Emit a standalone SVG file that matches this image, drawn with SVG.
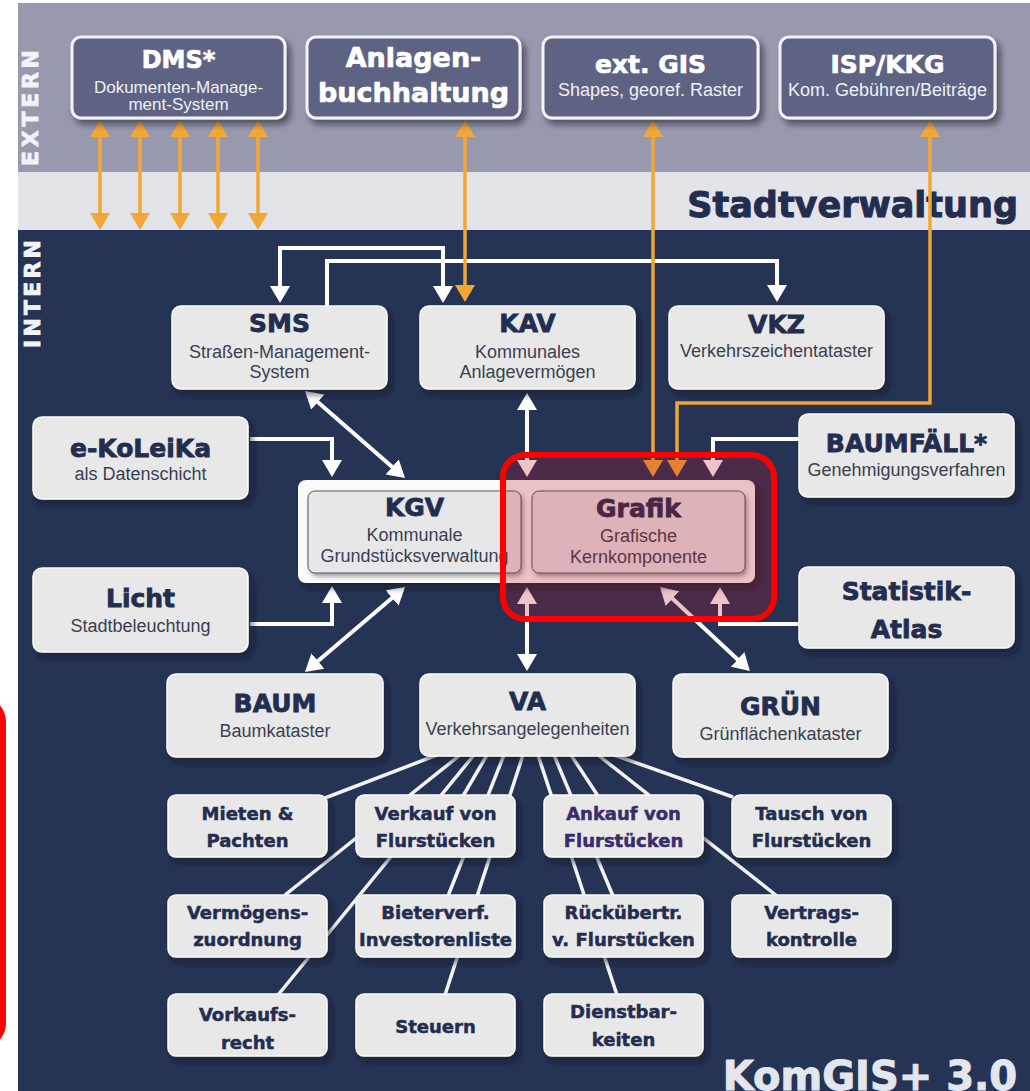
<svg xmlns="http://www.w3.org/2000/svg" width="1030" height="1091" viewBox="0 0 1030 1091">
<defs>
<filter id="sh" x="-10%" y="-10%" width="130%" height="140%"><feDropShadow dx="4" dy="5" stdDeviation="3" flood-color="#0a0f22" flood-opacity="0.55"/></filter>
<filter id="sh2" x="-10%" y="-10%" width="130%" height="140%"><feDropShadow dx="2" dy="3" stdDeviation="2" flood-color="#30303a" flood-opacity="0.45"/></filter>
<marker id="wa" markerUnits="userSpaceOnUse" markerWidth="18" markerHeight="20" refX="13" refY="10" orient="auto-start-reverse"><path d="M0,0 L17,10 L0,20 Z" fill="#ffffff"/></marker>
<marker id="oa" markerUnits="userSpaceOnUse" markerWidth="18" markerHeight="20" refX="13" refY="10" orient="auto-start-reverse"><path d="M0,0 L17,10 L0,20 Z" fill="#f2a735"/></marker>
<style>
.ext rect{fill:#5f6483;stroke:#f3f3f7;stroke-width:3;filter:url(#sh)}
.int rect{fill:#e8e8e8;stroke:#fafafa;stroke-width:1.5;filter:url(#sh)}
.t1{font-family:"DejaVu Sans",sans-serif;font-weight:bold;fill:#ffffff;stroke:#ffffff;stroke-width:0.7;text-anchor:middle}
.s1{font-family:"Liberation Sans",Arial,sans-serif;font-size:18px;fill:#eef0f6;text-anchor:middle}
.t2{font-family:"DejaVu Sans",sans-serif;font-weight:bold;font-size:25px;fill:#232d4f;stroke:#232d4f;stroke-width:0.8;text-anchor:middle}
.s2{font-family:"Liberation Sans",Arial,sans-serif;font-size:18px;fill:#3a3f52;text-anchor:middle}
.t3{font-family:"DejaVu Sans",sans-serif;font-weight:bold;font-size:18px;fill:#232d4f;stroke:#232d4f;stroke-width:0.5;text-anchor:middle}
.wl{fill:none;stroke:#ffffff;stroke-width:4}
.ol{fill:none;stroke:#f2a735;stroke-width:3.5}
.fan{fill:none;stroke:#f4f4f6;stroke-width:3.5}
.lbl{font-family:"DejaVu Sans",sans-serif;font-weight:bold;fill:#f2f3f8;stroke:#f2f3f8;stroke-width:0.8}
</style>
</defs>
<rect width="1030" height="1091" fill="#ffffff"/>
<rect x="18" y="3" width="1012" height="170" fill="#979aaf"/>
<rect x="18" y="172" width="1012" height="59" fill="#e2e4ea"/>
<rect x="18" y="230" width="1012" height="861" fill="#253355"/>
<text class="lbl" font-size="22" text-anchor="middle" transform="translate(38,108) rotate(-90)" textLength="116" lengthAdjust="spacing">EXTERN</text>
<text class="lbl" font-size="22" text-anchor="middle" transform="translate(40,294) rotate(-90)" textLength="108" lengthAdjust="spacing">INTERN</text>
<text x="1018" y="217" font-family="DejaVu Sans,sans-serif" font-weight="bold" font-size="35" fill="#232d4f" stroke="#232d4f" stroke-width="1" text-anchor="end">Stadtverwaltung</text>
<text x="1017" y="1090" font-family="DejaVu Sans,sans-serif" font-weight="bold" font-size="40" fill="#e4e6ee" stroke="#e4e6ee" stroke-width="1" text-anchor="end">KomGIS+ 3.0</text>
<rect x="-40" y="700" width="43" height="345" rx="22" fill="none" stroke="#ff0000" stroke-width="6"/>

<g id="connectors">
<path class="fan" d="M437,755 L325,798"/>
<path class="fan" d="M460,755 L285,895"/>
<path class="fan" d="M474,755 L278,995"/>
<path class="fan" d="M487,755 L463,796"/>
<path class="fan" d="M504,755 L448,896"/>
<path class="fan" d="M523,755 L445,995"/>
<path class="fan" d="M538,755 L617,995"/>
<path class="fan" d="M554,755 L613,896"/>
<path class="fan" d="M571,755 L598,796"/>
<path class="fan" d="M598,755 L777,896"/>
<path class="fan" d="M614,755 L733,797"/>
<path class="wl" d="M280,299 V248 H443 V299" marker-start="url(#wa)" marker-end="url(#wa)"/>
<path class="wl" d="M327,306 V261 H777 V298" marker-end="url(#wa)"/>
<path class="wl" d="M308,393.6 L402,475.4" marker-start="url(#wa)" marker-end="url(#wa)"/>
<path class="wl" d="M250,439 H332 V473" marker-end="url(#wa)"/>
<path class="wl" d="M250,624 H332 V590" marker-end="url(#wa)"/>
<path class="wl" d="M308,669.4 L402,589.6" marker-start="url(#wa)" marker-end="url(#wa)"/>
<path class="wl" d="M527,397 V473" marker-start="url(#wa)" marker-end="url(#wa)"/>
<path class="wl" d="M799,439 H713 V473" marker-end="url(#wa)"/>
<path class="wl" d="M527,591 V667" marker-start="url(#wa)" marker-end="url(#wa)"/>
<path class="wl" d="M663,589.7 L747,668.3" marker-start="url(#wa)" marker-end="url(#wa)"/>
<path class="wl" d="M799,624 H720 V591" marker-end="url(#wa)"/>
<path class="ol" d="M100,124 V226" marker-start="url(#oa)" marker-end="url(#oa)"/>
<path class="ol" d="M140,124 V226" marker-start="url(#oa)" marker-end="url(#oa)"/>
<path class="ol" d="M180,124 V226" marker-start="url(#oa)" marker-end="url(#oa)"/>
<path class="ol" d="M218,124 V226" marker-start="url(#oa)" marker-end="url(#oa)"/>
<path class="ol" d="M258,124 V226" marker-start="url(#oa)" marker-end="url(#oa)"/>
<path class="ol" d="M465,124 V298" marker-start="url(#oa)" marker-end="url(#oa)"/>
<path class="ol" d="M653,124 V473" marker-start="url(#oa)" marker-end="url(#oa)"/>
<path class="ol" d="M930,124 V403 H677 V473" marker-start="url(#oa)" marker-end="url(#oa)"/>
</g>

<g id="dms" class="ext"><rect x="72" y="37" width="213" height="81" rx="9"/>
<text class="t1" x="178.5" y="68" font-size="24">DMS*</text>
<text class="s1" x="178.5" y="93" font-size="17" style="font-size:17px">Dokumenten-Manage-</text>
<text class="s1" x="178.5" y="110" style="font-size:17px">ment-System</text></g>
<g id="anlagen" class="ext"><rect x="307" y="37" width="213" height="81" rx="9"/>
<text class="t1" x="413.5" y="67" font-size="27">Anlagen-</text>
<text class="t1" x="413.5" y="102" font-size="27">buchhaltung</text></g>
<g id="gis" class="ext"><rect x="543" y="37" width="215" height="81" rx="9"/>
<text class="t1" x="650.5" y="73" font-size="25">ext. GIS</text>
<text class="s1" x="650.5" y="96">Shapes, georef. Raster</text></g>
<g id="isp" class="ext"><rect x="780" y="37" width="215" height="81" rx="9"/>
<text class="t1" x="887.5" y="73" font-size="25">ISP/KKG</text>
<text class="s1" x="887.5" y="96">Kom. Gebühren/Beiträge</text></g>

<g id="sms" class="int"><rect x="172" y="306" width="215" height="83" rx="9"/>
<text class="t2" x="279.5" y="332">SMS</text>
<text class="s2" x="279.5" y="358">Straßen-Management-</text>
<text class="s2" x="279.5" y="378">System</text></g>
<g id="kav" class="int"><rect x="420" y="306" width="215" height="83" rx="9"/>
<text class="t2" x="527.5" y="332">KAV</text>
<text class="s2" x="527.5" y="358">Kommunales</text>
<text class="s2" x="527.5" y="378">Anlagevermögen</text></g>
<g id="vkz" class="int"><rect x="669" y="306" width="215" height="83" rx="9"/>
<text class="t2" x="776.5" y="333">VKZ</text>
<text class="s2" x="776.5" y="357">Verkehrszeichentataster</text></g>
<g id="ekoleika" class="int"><rect x="33" y="417" width="215" height="82" rx="9"/>
<text class="t2" x="140.5" y="457">e-KoLeiKa</text>
<text class="s2" x="140.5" y="480">als Datenschicht</text></g>
<g id="baumfaell" class="int"><rect x="799" y="414" width="215" height="83" rx="9"/>
<text class="t2" x="906.5" y="452">BAUMFÄLL*</text>
<text class="s2" x="906.5" y="476">Genehmigungsverfahren</text></g>
<g id="licht" class="int"><rect x="33" y="568" width="215" height="84" rx="9"/>
<text class="t2" x="140.5" y="607">Licht</text>
<text class="s2" x="140.5" y="632">Stadtbeleuchtung</text></g>
<g id="statistik" class="int"><rect x="799" y="567" width="215" height="81" rx="9"/>
<text class="t2" x="906.5" y="600">Statistik-</text>
<text class="t2" x="906.5" y="638">Atlas</text></g>
<g id="kgv-grafik">
<rect x="298" y="480" width="457" height="103" rx="8" fill="#fbfbfb" filter="url(#sh)"/>
<g id="kgv"><rect x="308" y="491" width="213" height="82" rx="7" fill="#e7e7e9" stroke="#50566a" stroke-width="1" filter="url(#sh2)"/>
<text class="t2" x="414.5" y="516">KGV</text>
<text class="s2" x="414.5" y="541">Kommunale</text>
<text class="s2" x="414.5" y="562">Grundstücksverwaltung</text></g>
<g id="grafik"><rect x="532" y="491" width="213" height="82" rx="7" fill="#e7e7e9" stroke="#50566a" stroke-width="1" filter="url(#sh2)"/>
<text class="t2" x="638.5" y="517">Grafik</text>
<text class="s2" x="638.5" y="542">Grafische</text>
<text class="s2" x="638.5" y="563">Kernkomponente</text></g>
</g>
<g id="baum" class="int"><rect x="167" y="674" width="216" height="83" rx="9"/>
<text class="t2" x="275" y="712">BAUM</text>
<text class="s2" x="275" y="737">Baumkataster</text></g>
<g id="va" class="int"><rect x="420" y="674" width="215" height="82" rx="9"/>
<text class="t2" x="527.5" y="710">VA</text>
<text class="s2" x="527.5" y="735">Verkehrsangelegenheiten</text></g>
<g id="gruen" class="int"><rect x="673" y="674" width="215" height="83" rx="9"/>
<text class="t2" x="780.5" y="715">GRÜN</text>
<text class="s2" x="780.5" y="740">Grünflächenkataster</text></g>

<g id="mieten" class="int"><rect x="168" y="795" width="159" height="62" rx="8"/>
<text class="t3" x="247.5" y="820">Mieten &amp;</text><text class="t3" x="247.5" y="847">Pachten</text></g>
<g id="verkauf" class="int"><rect x="356" y="795" width="159" height="62" rx="8"/>
<text class="t3" x="435.5" y="820">Verkauf von</text><text class="t3" x="435.5" y="847">Flurstücken</text></g>
<g id="ankauf" class="int"><rect x="544" y="795" width="159" height="62" rx="8"/>
<text class="t3" x="623.5" y="820" style="fill:#3a2c6c;stroke:#3a2c6c">Ankauf von</text><text class="t3" x="623.5" y="847" style="fill:#3a2c6c;stroke:#3a2c6c">Flurstücken</text></g>
<g id="tausch" class="int"><rect x="732" y="795" width="159" height="62" rx="8"/>
<text class="t3" x="811.5" y="820">Tausch von</text><text class="t3" x="811.5" y="847">Flurstücken</text></g>
<g id="vermoegen" class="int"><rect x="168" y="895" width="159" height="62" rx="8"/>
<text class="t3" x="247.5" y="919">Vermögens-</text><text class="t3" x="247.5" y="946">zuordnung</text></g>
<g id="bieter" class="int"><rect x="356" y="895" width="159" height="62" rx="8"/>
<text class="t3" x="435.5" y="919">Bieterverf.</text><text class="t3" x="435.5" y="946">Investorenliste</text></g>
<g id="rueck" class="int"><rect x="544" y="895" width="159" height="62" rx="8"/>
<text class="t3" x="623.5" y="919">Rückübertr.</text><text class="t3" x="623.5" y="946">v. Flurstücken</text></g>
<g id="vertrag" class="int"><rect x="732" y="895" width="159" height="62" rx="8"/>
<text class="t3" x="811.5" y="919">Vertrags-</text><text class="t3" x="811.5" y="946">kontrolle</text></g>
<g id="vorkauf" class="int"><rect x="168" y="994" width="159" height="62" rx="8"/>
<text class="t3" x="247.5" y="1021">Vorkaufs-</text><text class="t3" x="247.5" y="1049">recht</text></g>
<g id="steuern" class="int"><rect x="356" y="994" width="159" height="62" rx="8"/>
<text class="t3" x="435.5" y="1033">Steuern</text></g>
<g id="dienst" class="int"><rect x="544" y="994" width="159" height="62" rx="8"/>
<text class="t3" x="623.5" y="1018">Dienstbar-</text><text class="t3" x="623.5" y="1046">keiten</text></g>

<g id="highlight"><rect x="503" y="455" width="271" height="164" rx="22" fill="#be1428" fill-opacity="0.25" stroke="#ff0000" stroke-width="6"/></g>
</svg>
